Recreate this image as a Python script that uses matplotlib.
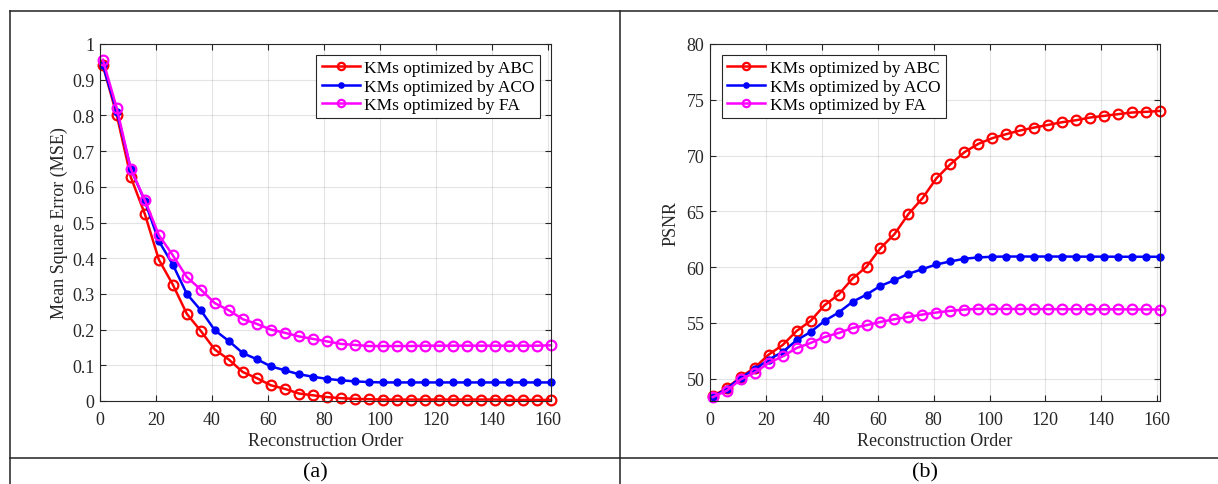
import matplotlib
matplotlib.use("Agg")
import matplotlib.pyplot as plt
from matplotlib.lines import Line2D
import numpy as np

plt.rcParams['font.family'] = ['Liberation Serif', 'DejaVu Serif']

# Data
order = [1, 6, 11, 16, 21, 26, 31, 36, 41, 46, 51, 56, 61, 66, 71, 76, 81,
         86, 91, 96, 101, 106, 111, 116, 121, 126, 131, 136, 141, 146, 151, 156, 161]

mse_abc = [0.941, 0.800, 0.627, 0.524, 0.396, 0.326, 0.244, 0.196, 0.144, 0.116,
           0.081, 0.064, 0.044, 0.034, 0.021, 0.016, 0.011, 0.008, 0.006, 0.005,
           0.004, 0.004, 0.004, 0.004, 0.004, 0.004, 0.004, 0.004, 0.004, 0.003,
           0.003, 0.003, 0.003]
mse_aco = [0.942, 0.810, 0.650, 0.560, 0.448, 0.382, 0.300, 0.254, 0.198, 0.168,
           0.134, 0.117, 0.097, 0.086, 0.075, 0.068, 0.062, 0.058, 0.055, 0.053,
           0.052, 0.052, 0.052, 0.052, 0.052, 0.052, 0.052, 0.052, 0.052, 0.052,
           0.052, 0.052, 0.052]
mse_fa = [0.956, 0.820, 0.650, 0.563, 0.465, 0.408, 0.347, 0.312, 0.274, 0.254,
          0.229, 0.216, 0.200, 0.191, 0.181, 0.174, 0.167, 0.160, 0.157, 0.154,
          0.154, 0.154, 0.154, 0.155, 0.155, 0.155, 0.155, 0.155, 0.155, 0.155,
          0.155, 0.155, 0.156]

psnr_abc = [48.44, 49.16, 50.15, 50.99, 52.16, 53.02, 54.28, 55.18, 56.59, 57.54,
            58.98, 60.03, 61.71, 62.96, 64.76, 66.17, 67.96, 69.22, 70.30, 71.05,
            71.56, 71.92, 72.25, 72.51, 72.75, 72.99, 73.17, 73.41, 73.56, 73.71,
            73.86, 73.92, 74.00]
psnr_aco = [48.35, 49.10, 50.09, 50.84, 51.71, 52.40, 53.44, 54.19, 55.18, 55.93,
            56.89, 57.54, 58.32, 58.83, 59.40, 59.82, 60.24, 60.51, 60.75, 60.87,
            60.93, 60.95, 60.95, 60.95, 60.95, 60.95, 60.94, 60.94, 60.94, 60.93,
            60.93, 60.93, 60.93]
psnr_fa = [48.35, 48.92, 49.94, 50.54, 51.41, 52.00, 52.75, 53.20, 53.74, 54.10,
           54.55, 54.79, 55.09, 55.33, 55.54, 55.75, 55.93, 56.08, 56.20, 56.26,
           56.26, 56.25, 56.25, 56.24, 56.24, 56.23, 56.23, 56.22, 56.22, 56.22,
           56.21, 56.21, 56.20]

labels = ['KMs optimized by ABC', 'KMs optimized by ACO', 'KMs optimized by FA']
xticks = [0, 20, 40, 60, 80, 100, 120, 140, 160]
mse_ticks = [0, 0.1, 0.2, 0.3, 0.4, 0.5, 0.6, 0.7, 0.8, 0.9, 1]
mse_ticklabels = ['0', '0.1', '0.2', '0.3', '0.4', '0.5', '0.6', '0.7', '0.8', '0.9', '1']
psnr_ticks = [50, 55, 60, 65, 70, 75, 80]

W, H = 1218, 485
fig = plt.figure(figsize=(W / 100, H / 100), dpi=100)

ax1 = fig.add_axes([100 / W, (H - 402) / H, 451 / W, 357 / H])
ax2 = fig.add_axes([710 / W, (H - 402) / H, 450 / W, 357 / H])

tick_col = '#262626'
styles = [
    dict(color='red', marker='o', markerfacecolor='none', markersize=7, markeredgewidth=1.6, lw=1.8),
    dict(color='blue', marker='o', markerfacecolor='blue', markersize=5, lw=1.8),
    dict(color='magenta', marker='o', markerfacecolor='none', markersize=7, markeredgewidth=1.6, lw=1.8),
]

def style_axes(ax):
    ax.grid(True, color='#262626', alpha=0.12, lw=0.8)
    ax.set_axisbelow(True)
    ax.tick_params(direction='in', top=True, right=True, labelsize=13,
                   colors=tick_col, length=4, width=0.8)
    ax.tick_params(axis='x', pad=7)
    ax.tick_params(axis='y', pad=4)
    for s in ax.spines.values():
        s.set_color('#262626')
        s.set_linewidth(0.8)
    ax.set_xlabel('Reconstruction Order', fontsize=13, color=tick_col, labelpad=3)

legend_kw = dict(borderaxespad=0, fontsize=12.5, fancybox=False, framealpha=1,
                 edgecolor='#262626', handlelength=2.2, handletextpad=0.25,
                 labelspacing=0.12, borderpad=0.3, markerscale=0.75)

for series, st, lab in zip([mse_abc, mse_aco, mse_fa], styles, labels):
    ax1.plot(order, series, label=lab, clip_on=False, **st)
ax1.set_xlim(0, 161)
ax1.set_ylim(0, 1)
ax1.set_xticks(xticks)
ax1.set_yticks(mse_ticks)
ax1.set_yticklabels(mse_ticklabels)
style_axes(ax1)
ax1.set_ylabel('Mean Square Error (MSE)', fontsize=13, color=tick_col, labelpad=3)
leg1 = ax1.legend(loc='upper right', bbox_to_anchor=(1 - 11 / 451, 1 - 11 / 357), **legend_kw)
leg1.get_frame().set_linewidth(0.8)

for series, st, lab in zip([psnr_abc, psnr_aco, psnr_fa], styles, labels):
    ax2.plot(order, series, label=lab, clip_on=False, **st)
ax2.set_xlim(0, 161)
ax2.set_ylim(48, 80)
ax2.set_xticks(xticks)
ax2.set_yticks(psnr_ticks)
style_axes(ax2)
ax2.set_ylabel('PSNR', fontsize=13, color=tick_col, labelpad=5)
leg2 = ax2.legend(loc='upper left', bbox_to_anchor=(12 / 450, 1 - 11 / 357), **legend_kw)
leg2.get_frame().set_linewidth(0.8)

# Table frame
def fline(x0, y0, x1, y1):
    fig.add_artist(Line2D([x0 / W, x1 / W], [1 - y0 / H, 1 - y1 / H],
                          color='#222222', lw=1.1, transform=fig.transFigure))

fline(10, 12, W, 12)
fline(10, 12, 10, H)
fline(620, 12, 620, H)
fline(10, 459, W, 459)

fig.text(315 / W, 1 - 473 / H, '(a)', ha='center', va='center', fontsize=16)
fig.text(925 / W, 1 - 473 / H, '(b)', ha='center', va='center', fontsize=16)

fig.savefig('out.png', dpi=100)
